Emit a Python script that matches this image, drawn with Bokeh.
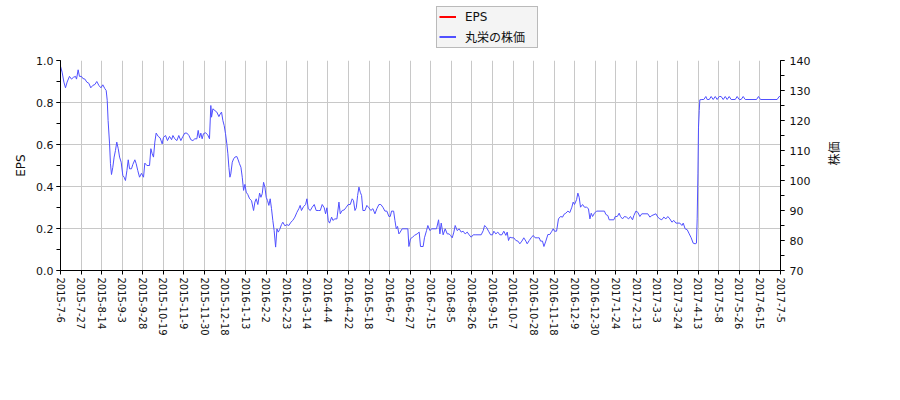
from bokeh.plotting import figure
from bokeh.layouts import column
from bokeh.models import (Range1d, LinearAxis, FixedTicker, SingleIntervalTicker,
                          NumeralTickFormatter, Legend, LegendItem)
from bokeh.embed import file_html
from bokeh.resources import INLINE
import math

# trading-day index (0 = 2015-7-6) and closing price of 丸栄
days = [
    0.0, 1.1, 2.3, 3.4, 4.5, 6.1, 7.5, 8.8, 10.2, 10.9,
    12.0, 12.9, 14.3, 15.2, 16.6, 17.9, 19.3, 20.6, 22.0, 23.4,
    24.7, 26.1, 27.5, 28.8, 30.2, 31.1, 31.8, 32.4, 33.4, 34.0,
    34.7, 35.6, 36.5, 37.4, 38.3, 39.3, 40.2, 41.3, 42.4, 43.3,
    44.2, 45.2, 46.1, 47.0, 48.3, 49.2, 50.6, 51.5, 52.6, 53.8,
    55.1, 56.5, 57.4, 58.8, 60.6, 61.5, 62.4, 63.3, 64.2, 65.1,
    66.5, 67.8, 69.2, 70.1, 71.5, 72.8, 74.2, 75.6, 76.5, 77.8,
    79.2, 80.5, 81.9, 83.3, 84.6, 86.0, 87.4, 88.7, 90.1, 91.4,
    92.8, 93.7, 94.6, 95.5, 96.4, 97.3, 98.7, 100.1, 101.4, 102.3,
    102.8, 103.7, 105.1, 106.4, 107.8, 108.7, 109.6, 110.5, 111.4, 112.3,
    113.2, 113.9, 114.6, 115.3, 115.9, 116.9, 117.8, 118.7, 120.0, 120.9,
    121.8, 122.8, 123.7, 124.6, 125.5, 126.4, 127.5, 128.7, 130.0, 131.4,
    132.3, 133.2, 134.3, 135.5, 136.4, 137.3, 138.2, 139.1, 140.0, 140.9,
    141.8, 142.7, 143.6, 144.5, 145.4, 146.4, 147.3, 148.2, 149.1, 150.4,
    151.3, 152.7, 154.1, 155.4, 156.8, 158.1, 159.5, 160.9, 162.2, 163.1,
    164.0, 165.4, 166.8, 167.7, 168.6, 170.0, 171.3, 172.7, 174.0, 175.4,
    176.8, 178.1, 179.5, 180.4, 181.3, 182.2, 183.1, 184.5, 185.4, 186.7,
    188.1, 189.5, 190.4, 191.7, 193.1, 194.5, 195.8, 197.2, 198.5, 199.4,
    200.4, 201.3, 202.2, 203.1, 204.0, 204.9, 205.8, 207.2, 208.5, 209.9,
    211.2, 212.6, 214.0, 215.3, 216.7, 218.0, 219.4, 220.8, 222.1, 223.5,
    224.4, 225.3, 226.7, 227.6, 228.5, 229.4, 230.3, 231.2,
    232.5, 236.4, 237.1, 238.2, 239.6, 240.9, 242.7, 244.1, 245.0, 246.8,
    247.7, 249.1, 250.0, 251.4, 252.7, 255.9, 257.3, 258.2, 259.1, 260.4,
    261.8, 263.2, 264.5, 265.4, 266.6, 267.7, 268.6, 270.0, 271.3, 272.7,
    274.0, 275.4, 276.8, 278.1, 279.5, 280.9, 282.2, 286.3, 287.7, 288.6,
    289.9, 291.3, 292.7, 294.0, 294.9, 296.3, 297.6, 299.0, 300.4, 301.7,
    303.1, 304.0, 304.9, 305.8, 307.2, 308.5, 309.9, 311.3, 312.6, 314.0,
    315.3, 316.7, 317.6, 319.0, 320.3, 321.7, 323.0, 324.4, 325.8, 326.7,
    328.0, 329.0, 330.3, 331.7, 333.0, 334.4, 335.3, 336.2, 337.6, 338.9,
    340.3, 341.7, 342.6, 343.9, 345.3, 346.6, 348.0, 348.9, 349.8, 351.2,
    352.1, 353.0, 353.9, 355.3, 356.6, 358.0, 359.3, 360.3, 361.2, 362.1,
    363.4, 364.8, 370.2, 371.1, 372.5, 373.4, 376.6, 377.5, 378.9, 380.2,
    381.1, 382.5, 383.8, 385.2, 386.6, 387.9, 389.3, 390.2, 391.6, 392.9,
    394.3, 395.6, 399.7, 401.1, 402.4, 405.2, 406.5, 407.9, 409.2, 410.6,
    412.0, 413.3, 414.7, 416.1, 417.4, 418.8, 421.5, 422.9, 423.8, 425.1,
    426.5, 427.9, 429.2, 430.6, 431.9, 432.8, 433.3, 433.8, 434.2, 434.7,
    435.1, 436.5, 437.8, 439.2, 440.1, 441.5, 442.8, 444.2, 445.6, 446.9,
    448.3, 449.6, 451.0, 452.4, 453.7, 455.1, 456.4, 459.2, 460.5, 461.9,
    463.2, 464.6, 466.0, 473.7, 475.0, 476.4, 487.7, 489.1, 490.0,
]
price = [
    138.1, 136.1, 132.8, 130.9, 132.8, 134.7, 133.8, 134.4, 134.7, 133.8,
    136.9, 134.7, 134.7, 134.0, 133.8, 132.8, 132.4, 130.9, 131.7, 132.0,
    133.0, 131.7, 130.9, 131.9, 130.6, 130.0, 126.7, 120.0, 112.2, 105.6,
    102.0, 104.4, 107.8, 110.0, 112.8, 110.6, 107.8, 106.1, 101.7, 101.1,
    100.0, 103.3, 106.9, 103.9, 103.9, 105.3, 106.9, 105.6, 103.3, 101.1,
    102.4, 101.1, 105.8, 105.0, 105.0, 110.6, 108.9, 107.8, 112.8, 115.8,
    114.7, 114.2, 112.2, 114.4, 115.0, 113.3, 114.7, 113.6, 115.0, 113.9,
    113.3, 115.0, 113.3, 114.7, 115.8, 115.8, 115.0, 113.6, 113.3, 113.9,
    113.9, 116.7, 114.2, 115.8, 113.9, 115.6, 115.9, 115.3, 113.9, 125.0,
    121.1, 123.9, 123.3, 122.8, 121.3, 122.2, 122.8, 120.0, 118.3, 115.6,
    112.2, 108.9, 104.4, 101.1, 102.2, 106.1, 107.2, 107.8, 108.0, 106.9,
    105.6, 104.4, 101.1, 96.7, 98.7, 96.1, 95.3, 93.9, 93.3, 90.0,
    92.8, 93.9, 92.0, 95.8, 94.4, 95.6, 99.4, 97.8, 94.4, 93.3,
    91.7, 93.9, 90.6, 86.7, 83.3, 77.8, 83.9, 82.8, 83.6, 85.3,
    86.1, 84.9, 85.3, 85.0, 86.1, 86.7, 87.8, 89.4, 90.6, 91.7,
    90.0, 91.3, 92.0, 93.9, 90.6, 90.0, 91.1, 92.0, 90.0, 90.0,
    90.0, 92.0, 90.9, 88.9, 90.9, 86.7, 85.8, 87.8, 86.7, 87.2,
    87.2, 92.8, 88.9, 90.0, 90.2, 91.1, 92.0, 92.0, 93.9, 93.3,
    90.0, 90.9, 95.0, 97.8, 96.1, 95.0, 90.0, 90.0, 91.7, 90.9,
    90.0, 90.6, 88.9, 90.6, 92.0, 92.0, 91.1, 89.8, 89.8, 88.0,
    88.0, 89.8, 89.8, 86.7, 83.9, 84.7, 82.2, 82.8,
    83.9, 83.9, 78.0, 80.6, 81.1, 81.7, 82.2, 82.8, 78.0, 78.0,
    80.9, 83.3, 85.0, 83.3, 83.9, 83.9, 86.9, 82.2, 85.8, 81.9,
    83.9, 82.2, 82.2, 81.7, 80.9, 82.8, 85.0, 83.3, 83.9, 82.8,
    83.1, 82.2, 82.8, 81.9, 81.1, 81.9, 81.9, 81.9, 83.3, 85.0,
    84.4, 83.1, 81.9, 81.9, 83.1, 82.2, 82.8, 81.9, 81.9, 83.1,
    81.7, 82.8, 80.0, 81.1, 80.9, 80.9, 80.0, 79.8, 78.9, 79.8,
    80.9, 79.8, 78.9, 80.0, 80.9, 81.7, 80.9, 80.9, 80.9, 79.8,
    79.8, 78.0, 79.8, 82.0, 82.0, 83.1, 83.9, 83.1, 83.1, 87.2,
    88.0, 87.8, 88.7, 89.1, 89.8, 89.3, 91.1, 92.8, 92.0, 93.6,
    95.8, 94.4, 91.1, 92.0, 91.1, 91.1, 90.6, 87.2, 89.1, 88.0,
    89.1, 89.8, 89.8, 88.7, 88.3, 86.9, 86.9, 88.0, 88.0, 89.1,
    88.0, 87.2, 88.0, 87.8, 87.2, 88.0, 86.9, 88.3, 89.8, 89.4,
    88.0, 88.9, 88.9, 87.8, 88.3, 88.9, 87.8, 87.2, 86.9, 87.8,
    87.2, 88.0, 87.2, 86.1, 86.7, 85.8, 85.8, 85.0, 85.8, 83.9,
    83.6, 82.2, 80.9, 79.1, 78.9, 79.1, 87.2, 102.2, 117.8, 123.3,
    126.9, 127.0, 127.0, 128.0, 127.0, 127.0, 128.0, 127.0, 128.0, 127.0,
    128.0, 128.0, 127.0, 128.0, 127.0, 128.0, 127.0, 127.0, 128.0, 127.0,
    127.0, 128.0, 127.0, 127.0, 128.0, 127.0, 127.0, 128.0, 128.0,
]

# EPS series (no values visible in the chart)
eps_days = []
eps_values = []

tick_labels = [
    "2015-7-6", "2015-7-27", "2015-8-14", "2015-9-3", "2015-9-28", "2015-10-19",
    "2015-11-9", "2015-11-30", "2015-12-18", "2016-1-13", "2016-2-2", "2016-2-23",
    "2016-3-14", "2016-4-4", "2016-4-22", "2016-5-18", "2016-6-7", "2016-6-27",
    "2016-7-15", "2016-8-5", "2016-8-26", "2016-9-15", "2016-10-7", "2016-10-28",
    "2016-11-18", "2016-12-9", "2016-12-30", "2017-1-24", "2017-2-13", "2017-3-3",
    "2017-3-24", "2017-4-13", "2017-5-8", "2017-5-26", "2017-6-15", "2017-7-5",
]
tick_step = 14

n = min(len(days), len(price))
days = days[:n]
price = price[:n]

FONT = "DejaVu Sans"
JP = "DejaVu Sans, Noto Sans CJK JP"
PRICE_COLOR = "#5050ff"
EPS_COLOR = "red"

# ---- legend strip (separate figure so the legend is not clipped) ----
lg = figure(width=884, height=52, output_backend="svg", toolbar_location=None,
            x_range=Range1d(0, 1), y_range=Range1d(0, 1),
            x_axis_type=None, y_axis_type=None,
            min_border_left=0, min_border_right=0, min_border_top=0, min_border_bottom=0)
lg.outline_line_color = None
lg.xgrid.visible = False
lg.ygrid.visible = False
# legend samples: the series drawn far outside this strip's 0..1 ranges (so unseen)
lg_eps = lg.line(days, price, line_color=EPS_COLOR, line_width=2)
lg_price = lg.line(days, price, line_color=PRICE_COLOR, line_width=2)

legend = Legend(items=[LegendItem(label="EPS", renderers=[lg_eps]),
                       LegendItem(label="丸栄の株価", renderers=[lg_price])],
                location=(376, 4))
legend.label_text_font = JP
legend.label_text_font_size = "12px"
legend.label_text_line_height = 0.8
legend.label_text_color = "#111111"
legend.border_line_color = "#808080"
legend.border_line_width = 1
legend.background_fill_color = "#f4f4f4"
legend.background_fill_alpha = 1
legend.padding = 2
legend.spacing = 4
legend.margin = 0
legend.glyph_width = 17
legend.glyph_height = 15
legend.label_height = 15
legend.label_width = 70
legend.label_standoff = 9
lg.add_layout(legend)

# ---- main chart ----
p = figure(width=884, height=332, output_backend="svg", toolbar_location=None,
           x_range=Range1d(0, tick_step * (len(tick_labels) - 1)),
           y_range=Range1d(0, 1),
           min_border_left=60, min_border_right=104,
           min_border_top=8, min_border_bottom=114)
p.outline_line_color = None
p.background_fill_color = "white"
p.extra_y_ranges = {"price": Range1d(70, 140)}

p.line(eps_days, eps_values, line_color=EPS_COLOR, line_width=1)
p.line(days, price, y_range_name="price", line_color=PRICE_COLOR, line_width=1)

ticks = [i * tick_step for i in range(len(tick_labels))]
xa = p.xaxis[0]
xa.ticker = FixedTicker(ticks=ticks, minor_ticks=[])
xa.major_label_overrides = {t: lab for t, lab in zip(ticks, tick_labels)}
xa.major_label_orientation = "vertical"

ya = p.yaxis[0]
ya.ticker = SingleIntervalTicker(interval=0.2, num_minor_ticks=2)
ya.formatter = NumeralTickFormatter(format="0.0")
ya.axis_label = "EPS"

ra = LinearAxis(y_range_name="price",
                ticker=SingleIntervalTicker(interval=10, num_minor_ticks=2),
                axis_label="株価")
p.add_layout(ra, "right")

for ax in (xa, ya, ra):
    ax.major_label_text_font = FONT
    ax.major_label_text_font_size = "11px"
    ax.major_label_text_color = "#111111"
    ax.axis_label_text_font = JP
    ax.axis_label_text_font_size = "12px"
    ax.axis_label_text_font_style = "normal"
    ax.axis_label_text_color = "#111111"
    ax.axis_line_color = "black"
    ax.major_tick_line_color = "black"
    ax.minor_tick_line_color = "black"
    ax.major_tick_in = 0
    ax.major_tick_out = 4
    ax.minor_tick_in = 0
    ax.minor_tick_out = 4
    ax.major_label_standoff = 3
xa.major_label_text_font_size = "10px"
xa.major_label_standoff = 3
ra.major_label_standoff = 5
ra.axis_label_standoff = 22
ra.axis_label_orientation = math.pi / 2

p.xgrid.grid_line_color = "#c8c8c8"
p.ygrid.grid_line_color = "#c8c8c8"

layout = column(lg, p, spacing=0)
open("out.html", "w").write(file_html(layout, INLINE))
